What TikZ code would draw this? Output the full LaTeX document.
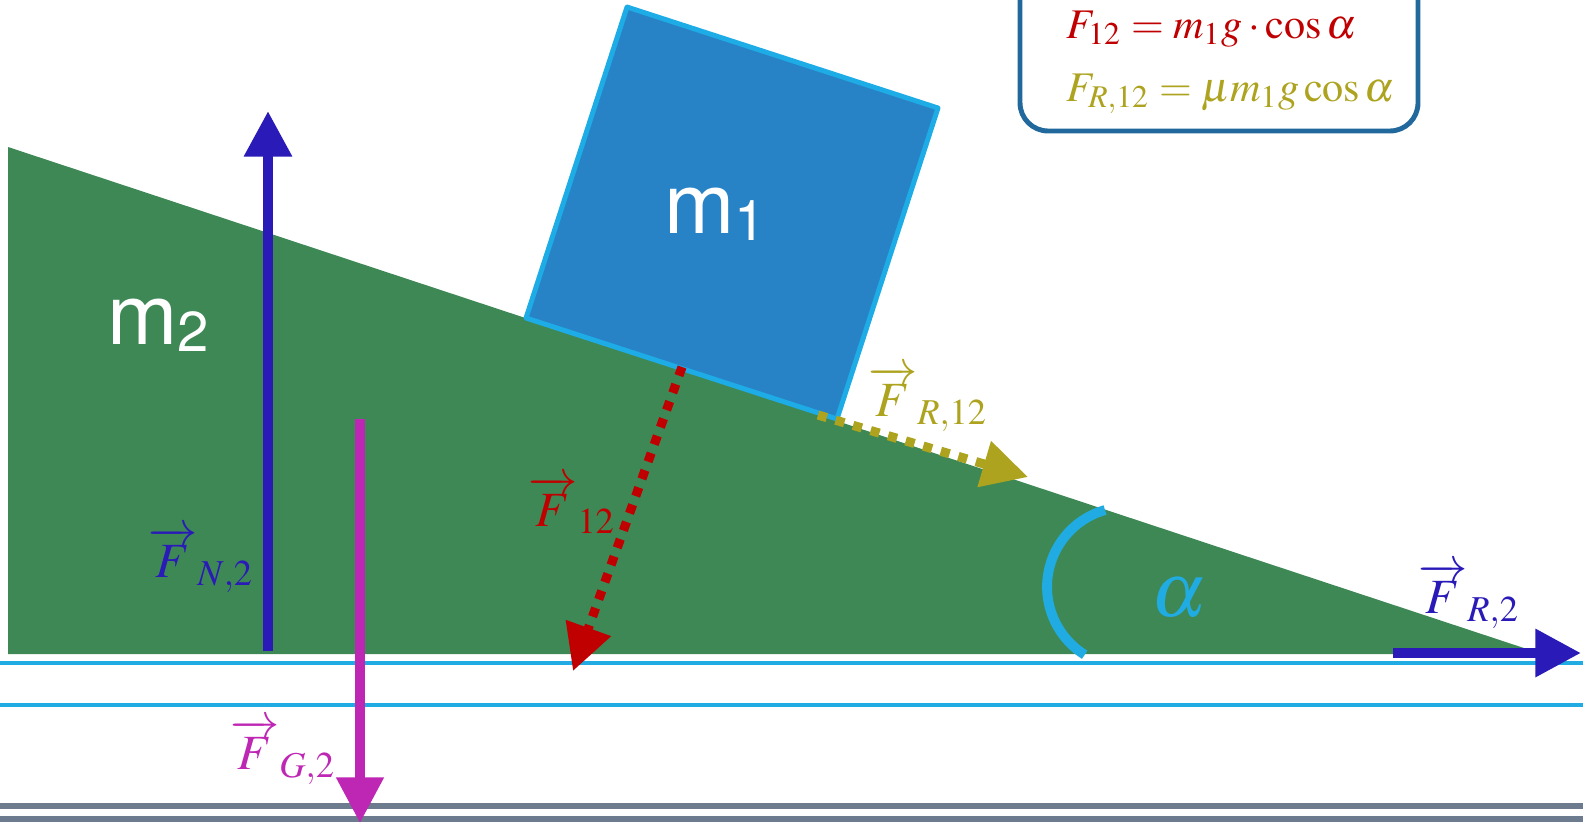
\documentclass[tikz,border=0pt]{standalone}
\usepackage{amsmath}
\usepackage{mathptmx}
\usepackage{fontspec}
\setmainfont{Liberation Serif}
\newfontfamily\massfont{TeX Gyre Heros}
\usetikzlibrary{arrows.meta}

\definecolor{slopegreen}{RGB}{62,136,85}
\definecolor{blockblue}{RGB}{40,131,198}
\definecolor{blockedge}{RGB}{30,172,230}
\definecolor{groundcyan}{RGB}{32,172,226}
\definecolor{groundgray}{RGB}{108,123,141}
\definecolor{fnblue}{RGB}{42,27,184}
\definecolor{fgpink}{RGB}{190,39,180}
\definecolor{ftred}{RGB}{192,0,0}
\definecolor{frolive}{RGB}{173,163,31}
\definecolor{boxedge}{RGB}{33,104,156}

\begin{document}
\begin{tikzpicture}[
    x=0.01cm, y=-0.01cm,
    >={Triangle[length=13pt,width=13pt]},
    force/.style={line width=3pt},
    dots/.style={line width=2.6pt, dash pattern=on 2.6pt off 2.6pt},
    lab/.style={inner sep=1pt, font=\fontsize{14}{16}\selectfont},
    mass/.style={text=white, inner sep=0pt, font=\massfont\fontsize{24}{28}\selectfont},
  ]
  \useasboundingbox (0,0) rectangle (1583,824);

  %% ---- ground -------------------------------------------------------
  \draw[groundcyan, line width=1.4pt] (0,663) -- (1583,663);
  \draw[groundcyan, line width=1.4pt] (0,705) -- (1583,705);
  \draw[groundgray, line width=1.5pt] (0,806) -- (1583,806);
  \draw[groundgray, line width=1.5pt] (0,819) -- (1583,819);

  %% ---- wedge m2 -----------------------------------------------------
  \fill[slopegreen] (8,147) -- (1542,654) -- (8,654) -- cycle;
  \node[mass] (m2) at (158,325) {m{\fontsize{16}{16}\selectfont\raisebox{-2pt}{2}}};

  %% ---- block m1 -----------------------------------------------------
  \coordinate (b1) at (526,318);
  \coordinate (b2) at (837,419);
  \coordinate (b3) at (938,108);
  \coordinate (b4) at (627,7);
  \filldraw[fill=blockblue, draw=blockedge, line width=1.4pt, line join=round]
    (b1) -- (b2) -- (b3) -- (b4) -- cycle;
  \node[mass] (m1) at (715,214) {m{\fontsize{16}{16}\selectfont\raisebox{-2pt}{1}}};

  %% ---- angle --------------------------------------------------------
  \draw[groundcyan, line width=2.8pt] (1105,510) arc[start angle=254, end angle=122, radius=80];
  \node[text=groundcyan, font=\fontsize{22}{24}\selectfont] (alpha) at (1179,598) {$\alpha$};

  %% ---- forces on m2 -------------------------------------------------
  \coordinate (n2a) at (268,651);
  \coordinate (n2b) at (268,111);
  \draw[force, fnblue, ->] (n2a) -- (n2b);
  \node[lab, text=fnblue] (ln2) at (201,560) {$\overrightarrow{F}_{N,2}$};

  \coordinate (g2a) at (360,419);
  \coordinate (g2b) at (360,823);
  \draw[line width=2.6pt, fgpink, ->] (g2a) -- (g2b);
  \node[lab, text=fgpink] (lg2) at (283,752) {$\overrightarrow{F}_{G,2}$};

  \coordinate (r2a) at (1393,653);
  \coordinate (r2b) at (1581,653);
  \draw[force, fnblue, ->] (r2a) -- (r2b);
  \node[lab, text=fnblue] (lr2) at (1469,596) {$\overrightarrow{F}_{R,2}$};

  %% ---- forces from m1 -----------------------------------------------
  \coordinate (t12a) at (682,367);
  \coordinate (t12b) at (573,671);
  \draw[dots, ftred, ->] (t12a) -- (t12b);
  \node[lab, text=ftred] (lt12) at (572,505) {$\overrightarrow{F}_{12}$};

  \coordinate (r12a) at (818,415);
  \coordinate (r12b) at (1028,477);
  \draw[dots, frolive, ->] (r12a) -- (r12b);
  \node[lab, text=frolive] (lr12) at (928,399) {$\overrightarrow{F}_{R,12}$};

  %% ---- formulas -----------------------------------------------------
  \draw[boxedge, line width=1.4pt, rounded corners=8pt, fill=white] (1020,-40) rectangle (1418,131);
  \node[anchor=base west, inner sep=0pt, text=ftred, font=\fontsize{12}{14}\selectfont] (f1) at (1066,38)
    {$F_{12} = m_1 g\cdot\cos\alpha$};
  \node[anchor=base west, inner sep=0pt, text=frolive, font=\fontsize{12}{14}\selectfont] (f2) at (1066,101)
    {$F_{R,12} = \mu m_1 g\cos\alpha$};
\end{tikzpicture}
\end{document}
